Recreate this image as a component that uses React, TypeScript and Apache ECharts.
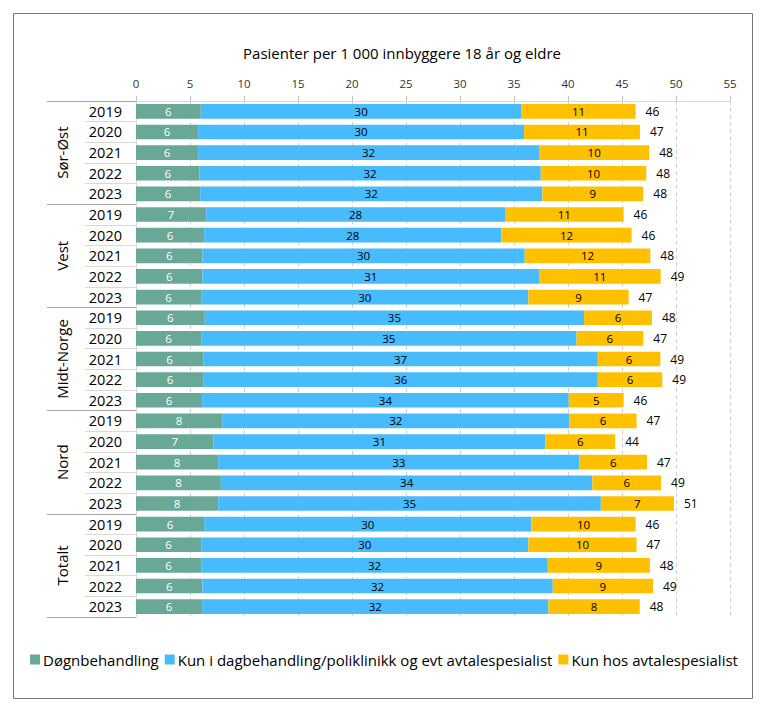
import React, { useEffect, useRef } from "react";
import * as echarts from "echarts";

const years = ["2019", "2020", "2021", "2022", "2023"];
const regions = ["Sør-Øst", "Vest", "Midt-Norge", "Nord", "Totalt"];
const seriesNames = [
  "Døgnbehandling",
  "Kun i dagbehandling/poliklinikk og evt avtalespesialist",
  "Kun hos avtalespesialist",
];
const doegn = [6.0, 5.75, 5.75, 5.87, 5.94, 6.5, 6.31, 6.15, 6.15, 6.03, 6.37, 6.03, 6.22, 6.28, 6.12, 7.98, 7.17, 7.61, 7.86, 7.61, 6.31, 6.03, 6.03, 6.15, 6.12];
const dag = [29.7, 30.18, 31.57, 31.61, 31.69, 27.67, 27.52, 29.84, 31.17, 30.3, 35.12, 34.76, 36.54, 36.48, 33.95, 32.16, 30.74, 33.46, 34.4, 35.43, 30.3, 30.3, 32.1, 32.44, 32.07];
const avtale = [10.56, 10.73, 10.2, 9.77, 9.34, 10.98, 12.06, 11.63, 11.26, 9.28, 6.28, 6.18, 5.79, 5.97, 5.08, 6.21, 6.46, 6.24, 6.36, 6.77, 9.65, 10.02, 9.45, 9.28, 8.45];
const totals = [46, 47, 48, 48, 48, 46, 46, 48, 49, 47, 48, 47, 49, 49, 46, 47, 44, 47, 49, 51, 46, 47, 48, 49, 48];
const xTicks = { min: 0, max: 55, interval: 5 };

const FONT = "Open Sans";

export default function App() {
  const ref = useRef<HTMLDivElement>(null);
  useEffect(() => {
    if (!ref.current) return;
    const chart = echarts.init(ref.current, null, { renderer: "svg" });
    const yearLabels = regions.flatMap(() => years);
    const colors = ["#69a896", "#47bbfb", "#ffc000"];
    const labelColors = ["#ffffff", "#000000", "#000000"];
    const vals = [doegn, dag, avtale];
    const series: any[] = vals.map((arr, i) => ({
      name: seriesNames[i],
      type: "bar",
      stack: "s",
      yAxisIndex: 0,
      barWidth: "71%",
      itemStyle: { color: colors[i] },
      label: {
        show: true,
        position: "inside",
        color: labelColors[i],
        fontFamily: FONT,
        fontSize: 11.5,
        formatter: (p: any) => String(Math.round(p.value)),
      },
      data: arr,
    }));
    series.push({
      name: "total",
      type: "bar",
      stack: "s",
      yAxisIndex: 0,
      barWidth: "71%",
      itemStyle: { color: "rgba(0,0,0,0)" },
      label: {
        show: true,
        position: "right",
        distance: 10,
        color: "#000",
        fontFamily: FONT,
        fontSize: 12,
        formatter: (p: any) => String(totals[p.dataIndex]),
      },
      data: totals.map(() => 0),
    });
    chart.setOption({
      animation: false,
      backgroundColor: "#ffffff",
      textStyle: { fontFamily: FONT },
      title: {
        text: "Pasienter per 1 000 innbyggere 18 år og eldre",
        left: 397,
        top: 40,
        textAlign: "center",
        textStyle: { fontFamily: FONT, fontSize: 15, fontWeight: "normal", color: "#000" },
      },
      legend: {
        data: seriesNames,
        left: "center",
        top: 647,
        icon: "rect",
        itemWidth: 10,
        itemHeight: 10,
        itemGap: 6,
        textStyle: { fontFamily: FONT, fontSize: 15, color: "#000", padding: [0, 0, 0, -2] },
      },
      grid: { left: 136, right: 38, top: 101, bottom: 100, containLabel: false },
      xAxis: {
        type: "value",
        position: "top",
        min: xTicks.min,
        max: xTicks.max,
        interval: xTicks.interval,
        axisLine: { show: true, lineStyle: { color: "#d9d9d9" } },
        axisTick: { show: true, inside: false, length: 5, lineStyle: { color: "#bfbfbf" } },
        axisLabel: { fontFamily: FONT, fontSize: 11.5, color: "#333", margin: 12 },
        splitLine: { show: true, lineStyle: { color: "#d0d0d0", type: [4, 3] } },
      },
      yAxis: [
        {
          type: "category",
          inverse: true,
          data: yearLabels,
          axisLine: { show: true, lineStyle: { color: "#d9d9d9" } },
          axisTick: { show: true, interval: 0, length: 51, lineStyle: { color: "#d9d9d9" } },
          axisLabel: { fontFamily: FONT, fontSize: 14.5, color: "#000", margin: 14, interval: 0 },
          splitLine: { show: false },
        },
        {
          type: "category",
          inverse: true,
          position: "left",
          data: regions,
          axisLine: { show: false },
          axisTick: { show: true, interval: 0, length: 89, lineStyle: { color: "#a6a6a6" } },
          axisLabel: { fontFamily: FONT, fontSize: 15, color: "#000", margin: 67, rotate: 90, interval: 0 },
          splitLine: { show: false },
        },
      ],
      graphic: [
        {
          type: "rect",
          shape: { x: 13.5, y: 13.5, width: 739, height: 685 },
          style: { fill: "none", stroke: "#767676", lineWidth: 1 },
          silent: true,
        },
      ],
      series,
    });
    return () => chart.dispose();
  }, []);
  return (
    <div
      ref={ref}
      style={{ position: "absolute", left: 0, top: 0, width: 768, height: 717, background: "#fff" }}
    />
  );
}
